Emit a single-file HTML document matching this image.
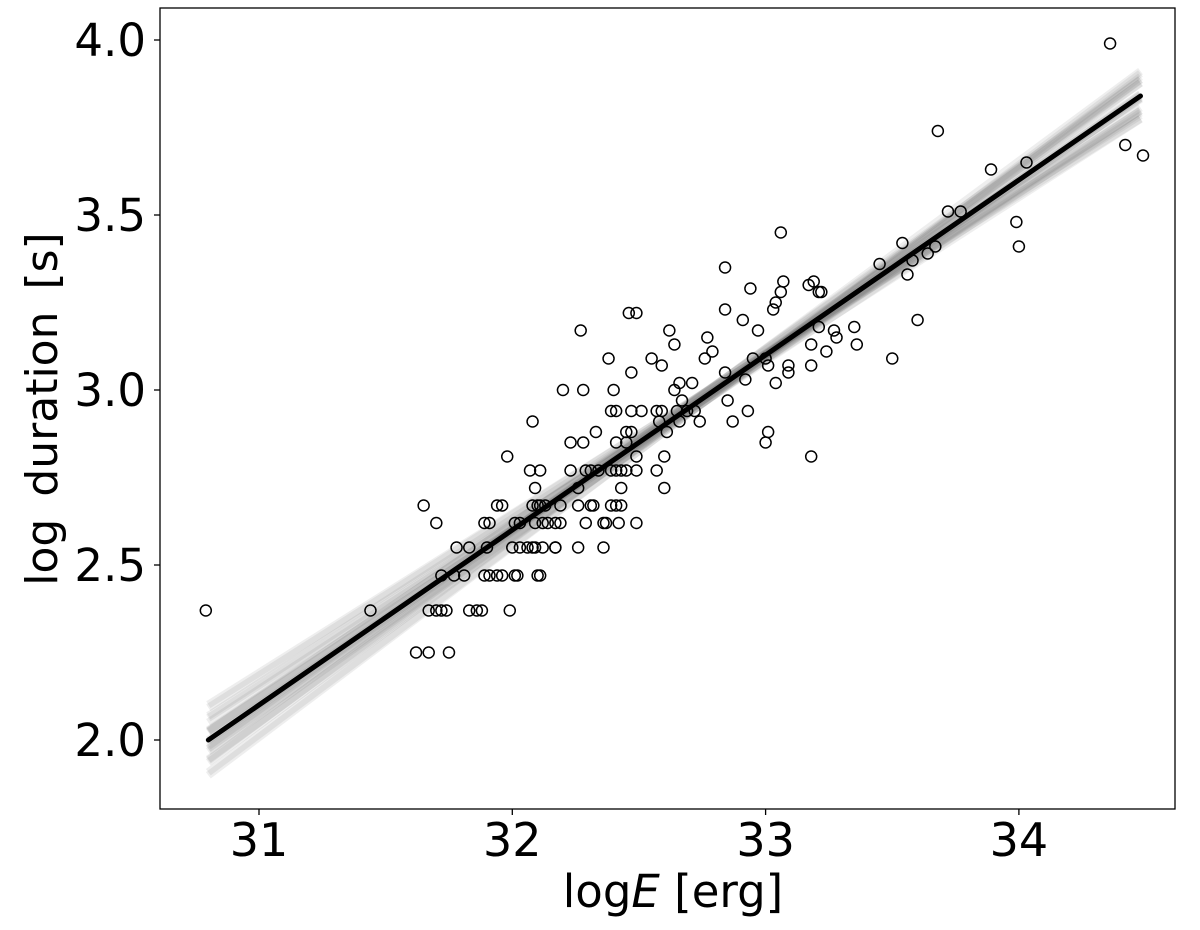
<!DOCTYPE html>
<html><head><meta charset="utf-8"><style>
body{margin:0;background:#fff;}
svg{display:block;font-family:"DejaVu Sans","Liberation Sans",sans-serif;}
</style></head><body>
<svg id="chart" width="1200" height="930" xmlns="http://www.w3.org/2000/svg"></svg>
<script>
const xTicks=[31,32,33,34];
const yTicks=[2.0,2.5,3.0,3.5,4.0];
const yTickLabels=["2.0","2.5","3.0","3.5","4.0"];
const fitX=[30.8,34.48];
const fitIntercept=2.0, fitSlope=0.5;
const sampleSlopes=[0.47,0.48,0.49,0.5,0.51,0.52,0.53,0.46,0.54,0.475,0.485,0.495,0.505,0.515,0.525,0.455,0.545,0.465,0.535,0.5];
const sampleOffsets=[0.015,-0.01,0.01,0,-0.015,0.01,-0.01,0.02,-0.02,0.005,-0.005,0.015,-0.015,0.01,-0.01,0.02,-0.02,0,0.005,-0.005];
const ptsX=[30.79,31.44,31.62,31.67,31.75,31.65,31.70,31.67,31.70,31.72,31.74,31.72,31.78,31.83,31.77,31.81,31.83,31.86,31.88,31.89,31.91,31.94,31.96,31.90,31.89,31.91,31.94,31.96,31.98,31.99,32.0,32.03,32.06,32.08,32.09,32.12,32.01,32.02,32.01,32.03,32.07,32.08,32.08,32.10,32.11,32.13,32.09,32.11,32.09,32.12,32.14,32.17,32.19,32.10,32.11,32.17,32.17,32.19,32.20,32.23,32.23,32.26,32.26,32.26,32.27,32.28,32.28,32.29,32.31,32.29,32.31,32.32,32.34,32.33,32.36,32.37,32.36,32.38,32.39,32.39,32.41,32.39,32.41,32.40,32.41,32.41,32.43,32.42,32.43,32.43,32.45,32.45,32.47,32.45,32.46,32.47,32.47,32.49,32.49,32.49,32.49,32.51,32.55,32.57,32.57,32.58,32.59,32.59,32.60,32.60,32.61,32.62,32.64,32.64,32.65,32.66,32.66,32.67,32.69,32.71,32.72,32.74,32.76,32.77,32.79,32.84,32.84,32.84,32.85,32.87,32.91,32.92,32.93,32.94,32.95,32.97,33.00,33.00,33.01,33.01,33.03,33.04,33.04,33.06,33.06,33.07,33.09,33.09,33.17,33.18,33.18,33.18,33.19,33.21,33.22,33.21,33.24,33.27,33.28,33.35,33.36,33.45,33.50,33.54,33.56,33.58,33.60,33.64,33.67,33.68,33.72,33.77,33.89,33.99,34.0,34.03,34.36,34.42,34.49];
const ptsY=[2.37,2.37,2.25,2.25,2.25,2.67,2.62,2.37,2.37,2.37,2.37,2.47,2.55,2.55,2.47,2.47,2.37,2.37,2.37,2.47,2.47,2.47,2.47,2.55,2.62,2.62,2.67,2.67,2.81,2.37,2.55,2.55,2.55,2.55,2.55,2.55,2.47,2.47,2.62,2.62,2.77,2.91,2.67,2.67,2.67,2.67,2.72,2.77,2.62,2.62,2.62,2.62,2.62,2.47,2.47,2.55,2.55,2.67,3.0,2.85,2.77,2.55,2.67,2.72,3.17,3.0,2.85,2.77,2.77,2.62,2.67,2.67,2.77,2.88,2.62,2.62,2.55,3.09,2.77,2.94,2.94,2.67,2.67,3.0,2.85,2.77,2.77,2.62,2.72,2.67,2.77,2.88,2.88,2.85,3.22,3.05,2.94,2.77,2.62,3.22,2.81,2.94,3.09,2.77,2.94,2.91,2.94,3.07,2.72,2.81,2.88,3.17,3.0,3.13,2.94,2.91,3.02,2.97,2.94,3.02,2.94,2.91,3.09,3.15,3.11,3.35,3.05,3.23,2.97,2.91,3.2,3.03,2.94,3.29,3.09,3.17,3.09,2.85,3.07,2.88,3.23,3.02,3.25,3.45,3.28,3.31,3.05,3.07,3.30,3.07,3.13,2.81,3.31,3.28,3.28,3.18,3.11,3.17,3.15,3.18,3.13,3.36,3.09,3.42,3.33,3.37,3.20,3.39,3.41,3.74,3.51,3.51,3.63,3.48,3.41,3.65,3.99,3.70,3.67];

const NS="http://www.w3.org/2000/svg";
const svg=document.getElementById('chart');
const L=160,R=1175,T=8,B=809;
function sx(v){return 259+(v-31)*253.3;}
function sy(v){return 740-(v-2)*350;}
function mk(tag,attrs,parent){const e=document.createElementNS(NS,tag);for(const k in attrs)e.setAttribute(k,attrs[k]);(parent||svg).appendChild(e);return e;}

const band=mk('g',{});


const pivot=32.6;
for(let i=0;i<sampleSlopes.length;i++){
  const yp=fitIntercept+(pivot-fitX[0])*fitSlope+sampleOffsets[i];
  const y0=yp+(fitX[0]-pivot)*sampleSlopes[i];
  const y1=yp+(fitX[1]-pivot)*sampleSlopes[i];
  const ln=mk('line',{x1:sx(fitX[0]),y1:sy(y0),x2:sx(fitX[1]),y2:sy(y1),stroke:'#555','stroke-opacity':0.1,'stroke-width':8},band);
  
  
}
const fit=mk('line',{x1:sx(fitX[0]),y1:sy(fitIntercept),x2:sx(fitX[1]),y2:sy(fitIntercept+(fitX[1]-fitX[0])*fitSlope),stroke:'#000','stroke-width':5,'stroke-linecap':'round'});



const pg=mk('g',{});


for(let i=0;i<ptsX.length;i++){
  const c=mk('circle',{cx:sx(ptsX[i]),cy:sy(ptsY[i]),r:5.5,fill:'none',stroke:'#000','stroke-width':1.5},pg);
  
  
}

const frame=mk('rect',{x:L,y:T,width:R-L,height:B-T,fill:'none',stroke:'#000','stroke-width':1.3});



xTicks.forEach(v=>{
  const t=mk('line',{x1:sx(v),x2:sx(v),y1:B,y2:B+6,stroke:'#000','stroke-width':1.3});
  
  
  const tx=mk('text',{x:sx(v),y:856,'font-size':46,'text-anchor':'middle'});
  tx.textContent=v;
  
  
});
yTicks.forEach((v,i)=>{
  const t=mk('line',{x1:L-6,x2:L,y1:sy(v),y2:sy(v),stroke:'#000','stroke-width':1.3});
  
  
  const tx=mk('text',{x:146,y:sy(v)+16,'font-size':45,'text-anchor':'end'});
  tx.textContent=yTickLabels[i];
  
  
});
const xl=mk('text',{x:673,y:907,'font-size':45,'text-anchor':'middle'});
xl.innerHTML='log<tspan font-style="italic">E</tspan> [erg]';


const yl=mk('text',{x:0,y:0,'font-size':44,'text-anchor':'middle','word-spacing':'8',transform:'translate(57,409) rotate(-90)'});
yl.textContent='log duration [s]';


</script>
</body></html>
